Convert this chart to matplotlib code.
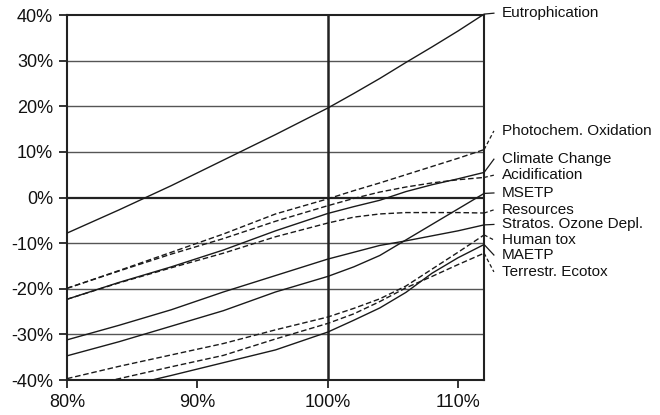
import numpy as np
import matplotlib
matplotlib.use("Agg")
import matplotlib.pyplot as plt

plt.rcParams['font.family'] = ['Liberation Sans', 'DejaVu Sans']

# relative change of the input parameter (%)
x = [80, 84, 88, 92, 96, 100, 102, 104, 106, 108, 110, 112]

# impact category results (%)
eutrophication = [-7.8, -2.7, 2.6, 8.2, 13.8, 19.6, 22.8, 26.1, 29.6, 33.0, 36.5, 40.2]
photochem = [-19.9, -16.0, -12.0, -8.0, -3.6, -0.3, 1.5, 3.2, 5.0, 6.8, 8.6, 10.5]
climate = [-22.3, -18.6, -15.2, -11.5, -7.3, -3.5, -2.0, -0.6, 1.3, 2.8, 4.1, 5.5]
acidification = [-19.9, -16.1, -12.4, -9.0, -5.2, -1.8, -0.2, 1.2, 2.3, 3.2, 3.9, 4.4]
msetp = [-34.7, -31.6, -28.2, -24.8, -20.7, -17.3, -15.2, -12.7, -9.3, -5.9, -2.5, 0.9]
resources = [-22.3, -18.7, -15.4, -12.2, -8.6, -5.6, -4.3, -3.6, -3.3, -3.3, -3.3, -3.4]
stratos = [-31.2, -28.0, -24.6, -20.7, -17.1, -13.5, -12.0, -10.5, -9.5, -8.4, -7.3, -6.0]
human_tox = [-39.7, -37.0, -34.5, -32.0, -29.0, -26.2, -24.3, -22.2, -19.4, -15.7, -12.0, -8.2]
maetp = [-44.4, -41.7, -39.0, -36.2, -33.4, -29.5, -26.9, -24.2, -20.8, -16.6, -13.2, -10.3]
terrestr = [-42.3, -39.7, -37.1, -34.6, -31.0, -27.6, -25.5, -22.8, -19.8, -17.3, -14.7, -12.2]

names = ["Eutrophication", "Photochem. Oxidation", "Climate Change", "Acidification",
         "MSETP", "Resources", "Stratos. Ozone Depl.", "Human tox", "MAETP",
         "Terrestr. Ecotox"]
series = [eutrophication, photochem, climate, acidification, msetp, resources,
          stratos, human_tox, maetp, terrestr]
dashed = [False, True, False, True, False, True, False, True, False, True]
label_y = [40.4, 14.6, 8.4, 4.9, 1.0, -2.7, -5.9, -9.3, -12.6, -16.3]

fig = plt.figure(figsize=(6.6, 4.15), dpi=100)
ax = fig.add_axes([0.1015, 0.0843, 0.632, 0.8795])

for yv in range(-30, 40, 10):
    if yv == 0:
        continue
    ax.axhline(yv, color='#555555', lw=1.0, zorder=1)
ax.axhline(0, color='#222222', lw=1.6, zorder=1)
ax.axvline(100, color='#222222', lw=1.8, zorder=1)

for name, ys, d, ly in zip(names, series, dashed, label_y):
    ls = (0, (4, 2)) if d else '-'
    ax.plot(x, ys, color='#1a1a1a', lw=1.0, ls=ls, zorder=3)
    ax.plot([x[-1], 112.75], [ys[-1], ly], color='#1a1a1a', lw=0.9,
            ls=(0, (3, 2)) if d else '-', clip_on=False, zorder=3)
    ax.text(113.35, ly, name, va='center', ha='left', fontsize=11,
            color='#111111')

ax.set_xlim(80, 112)
ax.set_ylim(-40, 40)
ax.set_xticks([80, 90, 100, 110])
ax.set_xticklabels(['80%', '90%', '100%', '110%'])
ax.set_yticks(range(-40, 41, 10))
ax.set_yticklabels([f'{v}%' for v in range(-40, 41, 10)])
ax.tick_params(axis='both', direction='out', length=6, width=1.2,
               labelsize=13, colors='#111111', pad=4)
for s in ax.spines.values():
    s.set_linewidth(1.5)
    s.set_color('#222222')

fig.savefig('out.png', dpi=100)
